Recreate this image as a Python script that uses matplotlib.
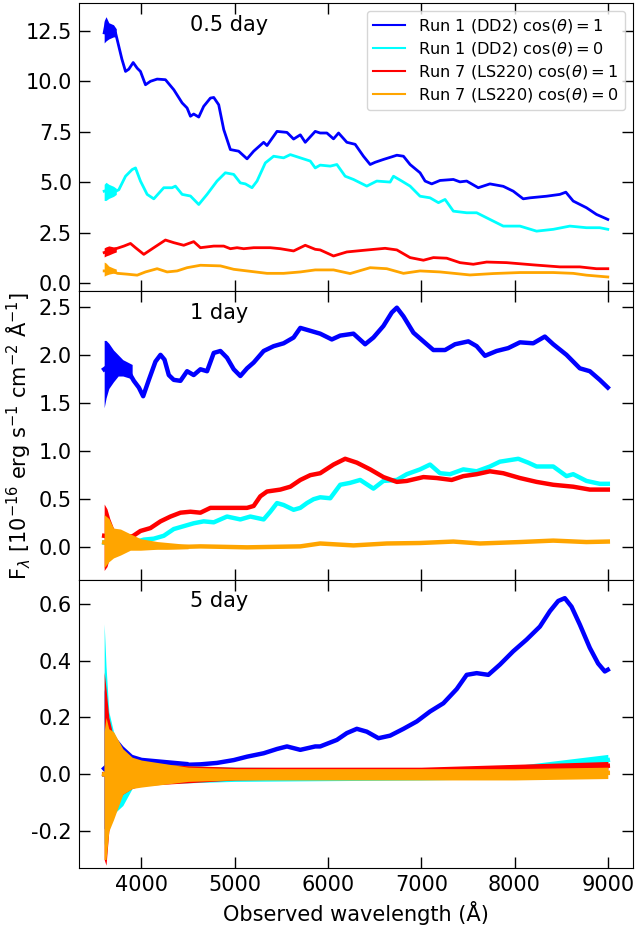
import matplotlib
matplotlib.use("Agg")
import matplotlib.pyplot as plt
from matplotlib.ticker import MultipleLocator, FormatStrFormatter

"""
3 epoch spectra (0.5, 1, 5 day) for two runs and two viewing angles
"""

plt.rcParams['axes.unicode_minus'] = False

labels = [r'Run 1 (DD2) cos$(\theta)=1$', r'Run 1 (DD2) cos$(\theta)=0$',
          r'Run 7 (LS220) cos$(\theta)=1$', r'Run 7 (LS220) cos$(\theta)=0$']
colors = ['blue', 'cyan', 'red', 'orange']
epochs = ['0.5 day', '1 day', '5 day']

# ---- 0.5 day ----
wl_a_blue = [3600, 3620, 3650, 3680, 3722, 3757, 3790, 3829, 3864, 3911, 3954, 3989, 4043, 4096, 4168,
             4257, 4347, 4436, 4489, 4525, 4560, 4614, 4667, 4739, 4775, 4828, 4882, 4953, 5042, 5132,
             5203, 5310, 5346, 5453, 5560, 5631, 5703, 5756, 5863, 5916, 5988, 6059, 6113, 6202, 6291,
             6380, 6452, 6505, 6594, 6684, 6738, 6809, 6880, 6987, 7041, 7112, 7201, 7344, 7415, 7487,
             7611, 7736, 7879, 7986, 8093, 8165, 8343, 8486, 8550, 8629, 8771, 8878, 9000]
f_a_blue = [12.4, 12.9, 12.6, 12.5, 12.4, 11.73, 11.1, 10.49, 10.6, 10.93, 10.65, 10.49, 9.83, 10.0, 10.11,
            10.08, 9.58, 8.93, 8.68, 8.27, 8.38, 8.23, 8.76, 9.17, 9.2, 8.84, 7.61, 6.62, 6.54, 6.16,
            6.54, 6.98, 6.82, 7.52, 7.47, 7.14, 7.35, 6.98, 7.52, 7.44, 7.44, 7.15, 7.44, 6.98, 6.88,
            6.29, 5.88, 5.99, 6.13, 6.26, 6.34, 6.29, 5.88, 5.47, 5.06, 4.92, 5.09, 5.14, 5.02, 5.06,
            4.73, 4.92, 4.80, 4.56, 4.18, 4.23, 4.31, 4.40, 4.51, 4.07, 3.74, 3.41, 3.16]
wl_a_cyan = [3600, 3643, 3690, 3757, 3829, 3900, 3936, 3989, 4061, 4132, 4239, 4328, 4364, 4436, 4525,
             4614, 4703, 4810, 4899, 4989, 5060, 5114, 5185, 5239, 5328, 5417, 5524, 5596, 5703, 5810,
             5863, 5916, 6024, 6095, 6184, 6273, 6416, 6523, 6666, 6702, 6791, 6880, 6987, 7094, 7184,
             7255, 7344, 7487, 7594, 7736, 7879, 8058, 8236, 8415, 8593, 8771, 8914, 9000]
f_a_cyan = [4.56, 4.62, 4.48, 4.63, 5.3, 5.63, 5.71, 5.06, 4.40, 4.18, 4.73, 4.73, 4.81, 4.40, 4.32,
            3.90, 4.40, 5.06, 5.47, 5.39, 4.97, 4.92, 4.73, 5.06, 5.96, 6.29, 6.21, 6.37, 6.21, 6.05,
            5.71, 5.85, 5.80, 5.88, 5.30, 5.14, 4.81, 5.06, 5.01, 5.30, 5.06, 4.81, 4.31, 4.23, 3.99,
            4.15, 3.57, 3.49, 3.49, 3.16, 2.83, 2.83, 2.58, 2.67, 2.83, 2.75, 2.75, 2.67]
wl_a_red = [3600, 3707, 3811, 3882, 3936, 4025, 4132, 4257, 4346, 4453, 4560, 4632, 4775, 4882, 4953,
            5025, 5096, 5203, 5381, 5489, 5631, 5756, 5863, 5916, 6059, 6202, 6380, 6612, 6738, 6880,
            7023, 7130, 7273, 7415, 7558, 7701, 7915, 8200, 8486, 8700, 8878, 9000]
f_a_red = [1.52, 1.68, 1.84, 1.97, 1.76, 1.43, 1.76, 2.14, 2.01, 1.88, 2.06, 1.76, 1.84, 1.84, 1.71,
           1.76, 1.71, 1.76, 1.76, 1.71, 1.60, 1.88, 1.68, 1.65, 1.35, 1.55, 1.63, 1.73, 1.65, 1.27,
           1.14, 1.27, 1.24, 1.02, 0.94, 1.05, 1.02, 0.91, 0.81, 0.81, 0.72, 0.72]
wl_a_orange = [3600, 3672, 3743, 3846, 3954, 4043, 4168, 4275, 4382, 4489, 4632, 4846, 4989, 5132, 5346,
               5524, 5703, 5863, 6059, 6237, 6452, 6630, 6809, 6987, 7201, 7522, 7772, 8058, 8415, 8629,
               8771, 9000]
f_a_orange = [0.61, 0.61, 0.49, 0.45, 0.40, 0.56, 0.72, 0.56, 0.61, 0.77, 0.89, 0.86, 0.69, 0.61, 0.49,
              0.49, 0.56, 0.66, 0.66, 0.48, 0.77, 0.72, 0.49, 0.61, 0.56, 0.41, 0.48, 0.53, 0.53, 0.49,
              0.40, 0.31]

# ---- 1 day ----
wl_b_blue = [3600, 3643, 3707, 3775, 3846, 3918, 3972, 4018, 4079, 4150, 4204, 4247, 4293, 4346, 4418,
             4489, 4560, 4632, 4703, 4775, 4846, 4917, 4989, 5060, 5132, 5203, 5310, 5417, 5524, 5631,
             5703, 5810, 5916, 6041, 6131, 6273, 6398, 6487, 6594, 6684, 6738, 6809, 6916, 7023, 7130,
             7255, 7362, 7505, 7594, 7683, 7808, 7932, 8058, 8200, 8325, 8415, 8557, 8700, 8807, 8914, 9000]
f_b_blue = [1.85, 1.88, 1.92, 1.90, 1.85, 1.73, 1.66, 1.57, 1.74, 1.93, 2.0, 1.95, 1.79, 1.74, 1.73,
            1.83, 1.79, 1.85, 1.83, 2.02, 2.04, 1.97, 1.85, 1.78, 1.86, 1.92, 2.04, 2.09, 2.12, 2.18,
            2.28, 2.25, 2.22, 2.16, 2.2, 2.22, 2.11, 2.18, 2.30, 2.44, 2.49, 2.40, 2.23, 2.14, 2.05,
            2.05, 2.11, 2.14, 2.09, 1.99, 2.04, 2.07, 2.13, 2.12, 2.19, 2.11, 2.0, 1.86, 1.83, 1.74, 1.66]
wl_b_cyan = [3600, 3700, 3800, 3918, 4025, 4132, 4239, 4346, 4453, 4560, 4667, 4775, 4917, 5060, 5167,
             5310, 5381, 5453, 5524, 5631, 5703, 5774, 5845, 5916, 6024, 6131, 6237, 6345, 6487, 6594,
             6738, 6845, 6987, 7094, 7201, 7308, 7451, 7594, 7736, 7843, 8040, 8146, 8236, 8415, 8557,
             8629, 8771, 8914, 9000]
f_b_cyan = [0.05, 0.05, 0.04, 0.05, 0.08, 0.09, 0.12, 0.19, 0.22, 0.25, 0.27, 0.26, 0.32, 0.29, 0.32,
            0.29, 0.37, 0.46, 0.44, 0.39, 0.41, 0.46, 0.50, 0.52, 0.51, 0.65, 0.67, 0.70, 0.61, 0.69,
            0.70, 0.76, 0.81, 0.86, 0.77, 0.76, 0.81, 0.79, 0.84, 0.89, 0.92, 0.88, 0.84, 0.84, 0.74,
            0.76, 0.69, 0.66, 0.66]
wl_b_red = [3600, 3672, 3775, 3882, 3989, 4096, 4204, 4311, 4418, 4525, 4632, 4739, 4846, 4989, 5132,
            5203, 5274, 5346, 5489, 5596, 5703, 5810, 5916, 6059, 6184, 6309, 6452, 6594, 6738, 6845,
            7023, 7166, 7326, 7451, 7594, 7736, 7879, 8058, 8236, 8415, 8629, 8807, 9000]
f_b_red = [0.12, 0.11, 0.11, 0.10, 0.17, 0.20, 0.27, 0.32, 0.36, 0.37, 0.36, 0.41, 0.41, 0.41, 0.41,
           0.43, 0.53, 0.58, 0.60, 0.63, 0.70, 0.75, 0.77, 0.86, 0.92, 0.88, 0.81, 0.73, 0.68, 0.69,
           0.73, 0.72, 0.70, 0.74, 0.76, 0.79, 0.77, 0.72, 0.68, 0.65, 0.63, 0.60, 0.60]
wl_b_orange = [3600, 3700, 3800, 3989, 4275, 4632, 5132, 5703, 5916, 6273, 6630, 6987, 7344, 7629, 8058,
               8415, 8771, 9000]
f_b_orange = [0.05, 0.03, 0.02, 0.01, 0.0, 0.01, 0.0, 0.01, 0.04, 0.02, 0.04, 0.045, 0.06, 0.04, 0.055,
              0.07, 0.055, 0.06]

# ---- 5 day ----
wl_c_blue = [3600, 3700, 3846, 3989, 4204, 4453, 4632, 4810, 4989, 5132, 5310, 5453, 5560, 5703, 5863,
             5916, 6095, 6202, 6309, 6416, 6541, 6666, 6809, 6952, 7094, 7237, 7380, 7487, 7594, 7719,
             7843, 7986, 8129, 8272, 8379, 8468, 8539, 8611, 8700, 8807, 8896, 8968, 9000]
f_c_blue = [0.02, 0.05, 0.05, 0.04, 0.035, 0.033, 0.035, 0.04, 0.05, 0.062, 0.074, 0.089, 0.098, 0.086, 0.098,
            0.098, 0.121, 0.145, 0.16, 0.15, 0.127, 0.136, 0.16, 0.186, 0.221, 0.25, 0.30, 0.35, 0.356, 0.35,
            0.386, 0.433, 0.474, 0.52, 0.574, 0.61, 0.62, 0.59, 0.527, 0.445, 0.39, 0.362, 0.368]
wl_c_cyan = [3600, 3700, 3800, 4000, 4500, 5000, 6000, 7000, 7500, 8000, 8500, 8800, 9000]
f_c_cyan = [0.0, 0.0, -0.01, 0.0, 0.0, -0.003, 0.0, 0.003, 0.006, 0.012, 0.025, 0.04, 0.05]
wl_c_red = [3600, 3700, 3800, 4000, 4500, 5000, 6000, 7000, 7500, 8000, 8500, 9000]
f_c_red = [0.0, 0.0, 0.0, 0.0, 0.0, 0.0, 0.003, 0.01, 0.015, 0.018, 0.022, 0.03]
wl_c_orange = [3600, 3700, 3800, 4000, 5000, 6000, 7000, 8000, 9000]
f_c_orange = [0.0, -0.01, 0.0, 0.0, 0.0, 0.0, 0.0, 0.002, 0.005]

# noise envelopes (min / max of the noisy parts, read by eye)
band_a_wl = [3600, 3620, 3650, 3700, 3730]
band_a_blue_lo = [11.9, 12.0, 12.1, 12.2, 12.2]
band_a_blue_hi = [13.0, 13.2, 12.9, 12.8, 12.6]
band_a_cyan_lo = [4.1, 4.1, 4.2, 4.3, 4.4]
band_a_cyan_hi = [4.9, 5.0, 4.9, 4.8, 4.7]
band_a_red_lo = [1.3, 1.35, 1.4, 1.5, 1.55]
band_a_red_hi = [1.75, 1.8, 1.85, 1.8, 1.8]
band_a_orange_lo = [0.35, 0.4, 0.45, 0.5, 0.5]
band_a_orange_hi = [1.05, 1.0, 0.85, 0.75, 0.7]

band_b_wl = [3600, 3620, 3650, 3700, 3750, 3800, 3900]
band_b_blue_lo = [1.45, 1.55, 1.65, 1.72, 1.78, 1.78, 1.75]
band_b_blue_hi = [2.15, 2.15, 2.12, 2.05, 2.0, 1.95, 1.9]
band_b_red_wl = [3600, 3630, 3660, 3700, 3800, 3900]
band_b_red_lo = [-0.24, -0.2, -0.1, 0.0, 0.06, 0.07]
band_b_red_hi = [0.45, 0.4, 0.3, 0.2, 0.15, 0.14]
band_b_orange_wl = [3600, 3650, 3700, 3775, 3880, 3990, 4170, 4500]
band_b_orange_lo = [-0.21, -0.15, -0.11, -0.08, -0.03, -0.03, -0.02, -0.015]
band_b_orange_hi = [0.34, 0.3, 0.2, 0.19, 0.14, 0.09, 0.06, 0.03]

band_c_wl = [3600, 3620, 3650, 3700, 3800, 3900, 4000, 4500, 5000, 7000, 8000, 9000]
band_c_blue_lo = [-0.19, -0.2, -0.15, -0.1, -0.04, -0.02, 0.0, 0.02]
band_c_blue_hi = [0.3, 0.25, 0.18, 0.14, 0.1, 0.07, 0.06, 0.045]
band_c_cyan_lo = [-0.25, -0.2, -0.18, -0.14, -0.11, -0.05, -0.035, -0.03, -0.025, -0.02, -0.015, 0.02]
band_c_cyan_hi = [0.53, 0.38, 0.22, 0.15, 0.08, 0.05, 0.04, 0.03, 0.025, 0.02, 0.03, 0.07]
band_c_red_lo = [-0.3, -0.32, -0.2, -0.12, -0.07, -0.05, -0.04, -0.03, -0.02, -0.01, -0.005, 0.01]
band_c_red_hi = [0.36, 0.3, 0.2, 0.13, 0.08, 0.05, 0.04, 0.03, 0.025, 0.025, 0.035, 0.045]
band_c_orange_lo = [-0.3, -0.3, -0.2, -0.16, -0.07, -0.05, -0.045, -0.025, -0.02, -0.02, -0.02, -0.015]
band_c_orange_hi = [0.15, 0.2, 0.16, 0.15, 0.09, 0.06, 0.05, 0.025, 0.02, 0.02, 0.02, 0.025]

panels = [
    [(wl_a_blue, f_a_blue), (wl_a_cyan, f_a_cyan), (wl_a_red, f_a_red), (wl_a_orange, f_a_orange)],
    [(wl_b_blue, f_b_blue), (wl_b_cyan, f_b_cyan), (wl_b_red, f_b_red), (wl_b_orange, f_b_orange)],
    [(wl_c_blue, f_c_blue), (wl_c_cyan, f_c_cyan), (wl_c_red, f_c_red), (wl_c_orange, f_c_orange)],
]
bands = [
    [(band_a_wl, band_a_blue_lo, band_a_blue_hi, 'blue'), (band_a_wl, band_a_cyan_lo, band_a_cyan_hi, 'cyan'),
     (band_a_wl, band_a_red_lo, band_a_red_hi, 'red'),
     (band_a_wl, band_a_orange_lo, band_a_orange_hi, 'orange')],
    [(band_b_wl, band_b_blue_lo, band_b_blue_hi, 'blue'), (band_b_red_wl, band_b_red_lo, band_b_red_hi, 'red'),
     (band_b_orange_wl, band_b_orange_lo, band_b_orange_hi, 'orange')],
    [(band_c_wl[:8], band_c_blue_lo, band_c_blue_hi, 'blue'),
     (band_c_wl, band_c_cyan_lo, band_c_cyan_hi, 'cyan'),
     (band_c_wl, band_c_red_lo, band_c_red_hi, 'red'),
     (band_c_wl, band_c_orange_lo, band_c_orange_hi, 'orange')],
]
linewidths = [2.0, 3.2, 3.2]
ylims = [(-0.4, 13.88), (-0.336, 2.66), (-0.33, 0.685)]
ysteps = [2.5, 0.5, 0.2]

fig, axes = plt.subplots(3, 1, figsize=(6.37, 9.26), dpi=100, sharex=True)
fig.subplots_adjust(left=0.124, right=0.9937, top=0.9968, bottom=0.0626, hspace=0)

for i, ax in enumerate(axes):
    for j, (wl, fl) in enumerate(panels[i]):
        # band first (same colour), then the line on top of it
        for bwl, lo, hi, c in bands[i]:
            if c == colors[j]:
                ax.fill_between(bwl, lo, hi, color=c, lw=0, zorder=2 + j)
        ax.plot(wl, fl, color=colors[j], lw=linewidths[i], label=labels[j], zorder=2 + j)
    ax.set_ylim(*ylims[i])
    ax.yaxis.set_major_locator(MultipleLocator(ysteps[i]))
    ax.yaxis.set_major_formatter(FormatStrFormatter('%.1f'))
    ax.tick_params(direction='in', top=True, right=True, length=8, width=1,
                   labelsize=15, pad=5)
    ax.text(0.2, 0.925, epochs[i], transform=ax.transAxes, fontsize=15, va='center')

leg = axes[0].legend(loc='upper right', fontsize=11.6, handlelength=2, labelspacing=0.3)
for line in leg.get_lines():
    line.set_linewidth(1.5)
axes[2].set_xlim(3330, 9270)
axes[2].xaxis.set_major_locator(MultipleLocator(1000))
axes[2].set_xlabel('Observed wavelength (Å)', fontsize=15)
axes[1].set_ylabel(r'F$_\lambda$ [10$^{-16}$ erg s$^{-1}$ cm$^{-2}$ Å$^{-1}$]', fontsize=15)

plt.savefig('out.png', dpi=100)
